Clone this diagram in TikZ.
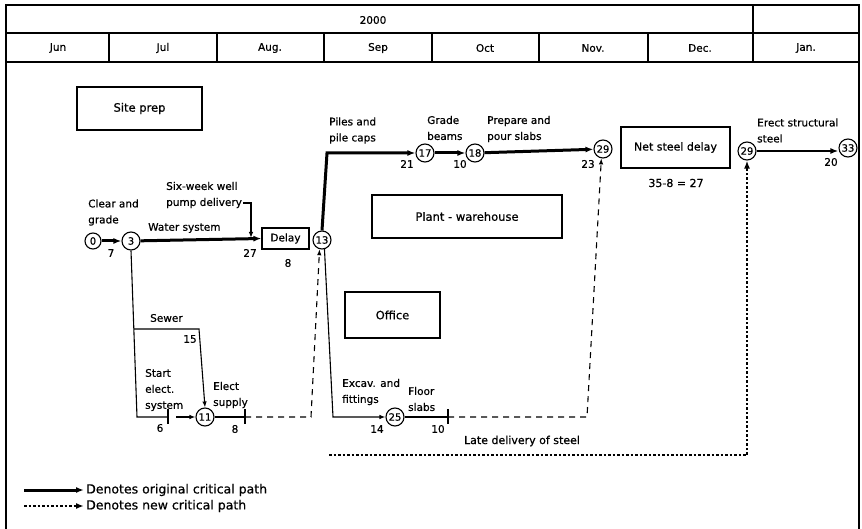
\documentclass[tikz,border=0pt]{standalone}
\usepackage{fontspec}
\setmainfont{DejaVu Sans}
\newfontfamily\labfont{DejaVu Sans}[FakeBold=0.6]
\usetikzlibrary{arrows.meta,calc}
\begin{document}
\begin{tikzpicture}[x=1pt,y=-1pt,
  evt/.style={circle, draw, line width=1.1pt, inner sep=0pt, minimum size=18pt, font=\labfont\fontsize{10}{10}\selectfont},
  box/.style={draw, line width=1.1pt, inner sep=0pt, font=\labfont\fontsize{11.5}{13}\selectfont},
  lbl/.style={inner sep=0pt, align=left, font=\labfont\fontsize{10.5}{16}\selectfont},
  num/.style={inner sep=0pt, font=\labfont\fontsize{10.5}{12}\selectfont},
  hdr/.style={inner sep=0pt, font=\labfont\fontsize{10.5}{12}\selectfont},
  frame/.style={line width=1.3pt},
  crit/.style={line width=3pt},
  act/.style={line width=1.1pt},
  dum/.style={line width=1.1pt, dash pattern=on 6pt off 5pt},
  newcrit/.style={line width=2.2pt, dash pattern=on 2.5pt off 2pt},
  tip/.style={-{Latex[length=8pt,width=6pt]}},
  stip/.style={-{Latex[length=6pt,width=4.5pt]}}
]
\useasboundingbox (0,0) rectangle (862,529);
% ---------- header ----------
\draw[frame] (6,529) -- (6,5) -- (859,5) -- (859,529);
\draw[frame] (6,33) -- (859,33);
\draw[frame] (6,62) -- (859,62);
\foreach \x in {109,217,324,432,539,648} \draw[frame] (\x,33) -- (\x,62);
\draw[frame] (753,5) -- (753,62);
\node[hdr] (year) at (373,20) {2000};
\node[hdr] (mjun) at (58,48) {Jun};
\node[hdr] (mjul) at (163,48) {Jul};
\node[hdr] (maug) at (270,48) {Aug.};
\node[hdr] (msep) at (378,48) {Sep};
\node[hdr] (moct) at (485,48) {Oct};
\node[hdr] (mnov) at (593,48) {Nov.};
\node[hdr] (mdec) at (700,48) {Dec.};
\node[hdr] (mjan) at (806,48) {Jan.};
% ---------- boxes ----------
\node[box, minimum width=125pt, minimum height=43pt] (siteprep) at (139.5,108.5) {Site prep};
\node[box, minimum width=190pt, minimum height=43pt] (plant) at (467,216.5) {Plant - warehouse};
\node[box, minimum width=95pt, minimum height=46pt] (office) at (392.5,315) {Office};
\node[box, minimum width=47pt, minimum height=21pt, font=\labfont\fontsize{10.5}{12}\selectfont] (delay) at (285.5,238.5) {Delay};
\node[box, minimum width=109pt, minimum height=41pt, font=\labfont\fontsize{11}{13}\selectfont] (netsteel) at (675.5,147.5) {Net steel delay};
% ---------- events ----------
\node[evt, minimum size=16pt] (n0) at (93,241) {0};
\node[evt] (n3) at (131,241) {3};
\node[evt] (n13) at (322,240) {13};
\node[evt] (n17) at (425,153) {17};
\node[evt] (n18) at (475,153) {18};
\node[evt] (n29a) at (603,149) {29};
\node[evt] (n29b) at (747,151) {29};
\node[evt] (n33) at (848,148) {33};
\node[evt] (n11) at (205,417) {11};
\node[evt] (n25) at (395,417) {25};
% ---------- helper coordinates ----------
\coordinate (pumpend) at (243,203);
\coordinate (pumphit) at (251,238);
\coordinate (c1) at (327,153);
\coordinate (t1) at (168,417);
\coordinate (t2) at (245,417);
\coordinate (t3) at (448,417);
\coordinate (c2) at (311,417);
\coordinate (c3) at (333,417);
\coordinate (c4) at (587,417);
\coordinate (c5) at (329,455);
\coordinate (c6) at (747,455);
\coordinate (c7) at (137,417);
\coordinate (c8) at (134,329);
\coordinate (c9) at (199,329);
\coordinate (c10) at (176,417);
\coordinate (lg1s) at (24,490);
\coordinate (lg1e) at (84,490);
\coordinate (lg2s) at (24,506);
\coordinate (lg2e) at (84,506);
% ---------- connectors ----------
\draw[crit,tip] (n0) -- (n3);
\draw[crit,tip] (n3) -- (delay.west);
\draw[act,stip] (pumpend) -| (pumphit);
\draw[crit,tip] (n13.north) -- (c1) -- (n17);
\draw[crit,tip] (n17) -- (n18);
\draw[crit,tip] (n18) -- (n29a);
\draw[line width=2pt,tip] (n29b) -- (n33.west |- n29b);
% sewer / electrical
\draw[act] (n3.south) -- (c7) -- (t1);
\draw[act] ($(t1)+(0,-8)$) -- ($(t1)+(0,7)$);
\draw[act,stip] (c8) -- (c9) -- (n11.north);
\draw[act,stip] (c10) -- (n11.west);
\draw[act] (n11.east) -- (t2);
\draw[act] ($(t2)+(0,-8)$) -- ($(t2)+(0,7)$);
\draw[dum,stip] (t2) -- (c2) -- (n13.-105);
% office branch
\draw[act,stip] (n13.-75) -- (c3) -- (n25.west);
\draw[act] (n25.east) -- (t3);
\draw[act] ($(t3)+(0,-8)$) -- ($(t3)+(0,7)$);
\draw[dum,stip] (t3) -- (c4) -- (n29a.-100);
% late steel
\draw[newcrit,tip] (c5) -- (c6) -- (n29b.south);
% ---------- labels ----------
\node[lbl, anchor=west] (lclear) at (88,212.5) {Clear and\\grade};
\node[lbl, anchor=west] (lsix) at (166,195) {Six-week well\\pump delivery};
\node[lbl, anchor=west] (lwater) at (148,228) {Water system};
\node[num] (d7) at (111,253) {7};
\node[num] (d27) at (250,253) {27};
\node[num] (d8a) at (288,263) {8};
\node[lbl, anchor=west] (lsewer) at (150,318) {Sewer};
\node[num] (d15) at (190,339) {15};
\node[lbl, anchor=west] (lstart) at (145,390) {Start\\elect.\\system};
\node[num] (d6) at (160,428) {6};
\node[lbl, anchor=west] (lelect) at (213,395) {Elect\\supply};
\node[num] (d8b) at (235,429) {8};
\node[lbl, anchor=west] (lpiles) at (329,130.5) {Piles and\\pile caps};
\node[lbl, anchor=west] (lgrade) at (427,128) {Grade\\beams};
\node[lbl, anchor=west] (lprep) at (487,129) {Prepare and\\pour slabs};
\node[num] (d21) at (407,164) {21};
\node[num] (d10a) at (460,164) {10};
\node[num] (d23) at (588,164) {23};
\node[num, font=\labfont\fontsize{11}{12}\selectfont] (dnet) at (676,183) {35-8 = 27};
\node[lbl, anchor=west] (lerect) at (757,130.5) {Erect structural\\steel};
\node[num] (d20) at (831,162) {20};
\node[lbl, anchor=west] (lexcav) at (342,392) {Excav. and\\fittings};
\node[lbl, anchor=west] (lfloor) at (408,399) {Floor\\slabs};
\node[num] (d14) at (377,429) {14};
\node[num] (d10b) at (438,429) {10};
\node[lbl, font=\labfont\fontsize{11}{12}\selectfont] (llate) at (522,441) {Late delivery of steel};
% ---------- legend ----------
\draw[crit,tip] (lg1s) -- (lg1e);
\draw[newcrit,tip] (lg2s) -- (lg2e);
\node[lbl, anchor=west, font=\labfont\fontsize{12.5}{13}\selectfont] (leg1) at (86,490) {Denotes original critical path};
\node[lbl, anchor=west, font=\labfont\fontsize{12.5}{13}\selectfont] (leg2) at (86,506) {Denotes new critical path};
\end{tikzpicture}
\end{document}
